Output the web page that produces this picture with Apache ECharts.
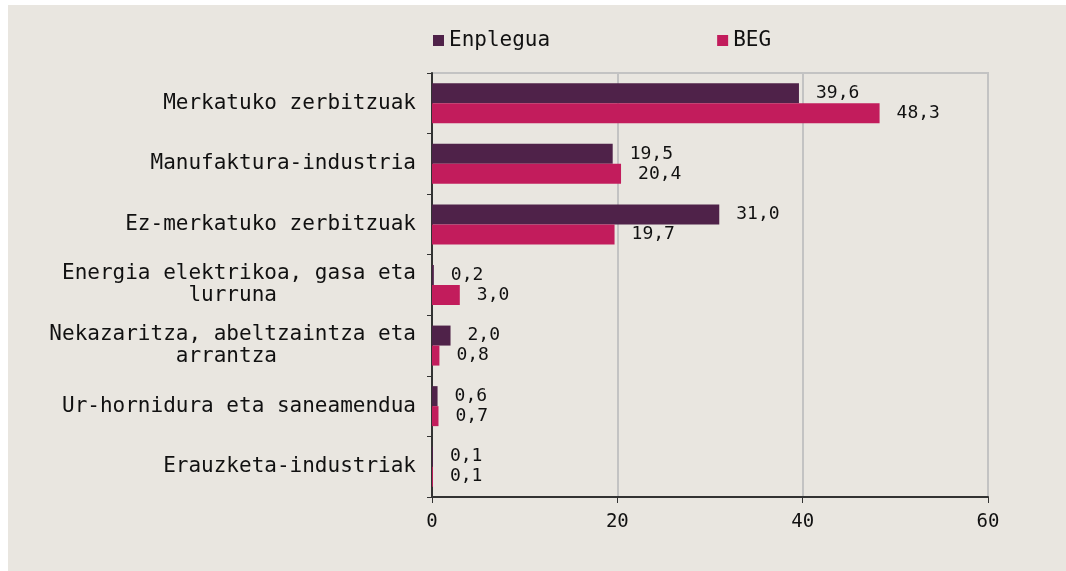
<!DOCTYPE html>
<html>
<head>
<meta charset="UTF-8">
<title>Enplegua eta BEG</title>
<style type="text/css">
	body{margin: 0;padding: 0;background: #fff;}
	.chart-box{position: fixed;left: 8px;top: 5px;right: 0;bottom: 0;background: #e9e6e0;}
	#main{width: 1058px;height: 566px;}
</style>
</head>
<body>
<div class="chart-box"><div id="main"></div></div>
<script src="https://cdn.jsdelivr.net/npm/echarts@6/dist/echarts.min.js"></script>
<script>
var categories = ['Merkatuko zerbitzuak', 'Manufaktura-industria', 'Ez-merkatuko zerbitzuak',
	'Energia elektrikoa, gasa eta\nlurruna', 'Nekazaritza, abeltzaintza eta\narrantza',
	'Ur-hornidura eta saneamendua', 'Erauzketa-industriak'];
var enplegua = [39.6, 19.5, 31.0, 0.2, 2.0, 0.6, 0.1];
var beg = [48.3, 20.4, 19.7, 3.0, 0.8, 0.7, 0.1];
var xTicks = [0, 20, 40, 60];

var font = '"DejaVu Sans Mono", monospace';
function fmt(p){ return p.value.toFixed(1).replace('.', ','); }

// monospace font: centre the short second line by padding it with spaces
function centreLines(v){
	var lines = v.split('\n');
	var n = Math.max.apply(null, lines.map(function(s){ return s.length; }));
	return lines.map(function(s){
		var pad = n - s.length, l = Math.floor(pad / 2);
		return new Array(l + 1).join(' ') + s + new Array(pad - l + 1).join(' ');
	}).join('\n');
}

var chart = echarts.init(document.getElementById('main'));
chart.setOption({
	animation: false,
	textStyle: {fontFamily: font},
	legend: {
		top: 20, left: 420,
		itemWidth: 11, itemHeight: 11, itemGap: 167,
		icon: 'rect',
		textStyle: {fontSize: 21, color: '#111', fontFamily: font},
		data: ['Enplegua', 'BEG']
	},
	grid: {left: 424, right: 78, top: 68, bottom: 74, show: true, borderColor: '#c3c3c3', borderWidth: 2},
	xAxis: {
		type: 'value', min: 0, max: 60, interval: 20,
		axisLine: {show: true, lineStyle: {color: '#333', width: 2}},
		axisTick: {show: true, length: 6, lineStyle: {color: '#333', width: 1}},
		splitLine: {lineStyle: {color: '#c3c3c3', width: 2}},
		axisLabel: {fontSize: 19, color: '#111', margin: 16, fontFamily: font,
			formatter: function(v){ return xTicks.indexOf(v) >= 0 ? String(v) : ''; }}
	},
	yAxis: {
		type: 'category', inverse: true, data: categories,
		axisLine: {show: true, lineStyle: {color: '#333', width: 2}},
		axisTick: {show: true, length: 5, lineStyle: {color: '#333'}},
		axisLabel: {fontSize: 21, lineHeight: 22, color: '#111', margin: 16, align: 'right', fontFamily: font,
			formatter: centreLines}
	},
	series: [
		{name: 'Enplegua', type: 'bar', data: enplegua, barWidth: 20, barGap: '0%',
			itemStyle: {color: '#4f2249'},
			label: {show: true, position: 'right', distance: 17, formatter: fmt, fontSize: 18, color: '#111', fontFamily: font}},
		{name: 'BEG', type: 'bar', data: beg, barWidth: 20, barGap: '0%',
			itemStyle: {color: '#c21c5c'},
			label: {show: true, position: 'right', distance: 17, formatter: fmt, fontSize: 18, color: '#111', fontFamily: font}}
	]
});
</script>
</body>
</html>
